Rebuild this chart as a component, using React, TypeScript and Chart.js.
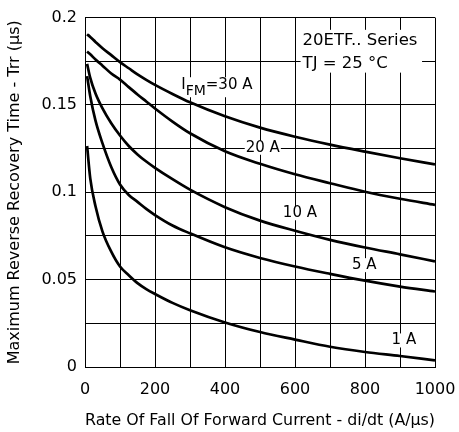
import React, { useEffect, useRef } from 'react';
import { Chart, registerables } from 'chart.js';

Chart.register(...registerables);

// di/dt (A/µs)
const rateValues = [6, 15, 30, 50, 75, 100, 125, 150, 175, 200, 250, 300, 400, 500, 600, 700, 800, 900, 1000];
// Trr (µs) per forward current
const trr30A = [0.1905, 0.1889, 0.1861, 0.1825, 0.1785, 0.1745, 0.171, 0.1675, 0.1644, 0.1615, 0.1563, 0.1515, 0.1435, 0.137, 0.1318, 0.1273, 0.1233, 0.1195, 0.116];
const trr20A = [0.1806, 0.179, 0.176, 0.1725, 0.168, 0.1645, 0.1602, 0.156, 0.152, 0.148, 0.1405, 0.1338, 0.1235, 0.1163, 0.1103, 0.1052, 0.1003, 0.0963, 0.0928];
const trr10A = [0.1735, 0.1655, 0.1565, 0.148, 0.1395, 0.1325, 0.1265, 0.1217, 0.1176, 0.114, 0.1075, 0.1015, 0.0915, 0.0838, 0.078, 0.0728, 0.0684, 0.0645, 0.0605];
const trr5A = [0.1665, 0.155, 0.141, 0.128, 0.1145, 0.1045, 0.0985, 0.0945, 0.0905, 0.087, 0.081, 0.0765, 0.0685, 0.0624, 0.0575, 0.0533, 0.0494, 0.046, 0.0432];
const trr1A = [0.1265, 0.108, 0.092, 0.0775, 0.066, 0.0575, 0.0525, 0.048, 0.0446, 0.0418, 0.0367, 0.0325, 0.0255, 0.02, 0.0157, 0.0116, 0.0086, 0.0063, 0.0038];

const seriesNames = ['30 A', '20 A', '10 A', '5 A', '1 A'];
const seriesValues = [trr30A, trr20A, trr10A, trr5A, trr1A];

const xTickLabels = ['0', '200', '400', '600', '800', '1000'];
const yTickLabels = ['0', '0.05', '0.1', '0.15', '0.2'];

const xTitle = 'Rate Of Fall Of Forward Current - di/dt (A/µs)';
const yTitle = 'Maximum Reverse Recovery Time - Trr (µs)';

// curve labels (data coordinates)
const curveLabels = ['20 A', '10 A', '5 A', '1 A'];
const curveLabelX = [508, 614, 798, 911];
const curveLabelY = [0.1255, 0.088, 0.0583, 0.0152];

const ifmMain = 'I';
const ifmSub = 'FM';
const ifmRest = '=30 A';
const ifmX = 275;
const ifmY = 0.159;

const boxLines = ['20ETF.. Series', 'TJ = 25 °C'];
const boxLineY = [0.1869, 0.1735];
const boxX = [616, 963];
const boxY = [0.193, 0.1685];

const FONT = '"DejaVu Sans", sans-serif';

const annotationPlugin = {
  id: 'annotations',
  beforeDatasetsDraw(chart: any) {
    const { ctx, scales } = chart;
    const xs = scales.x;
    const ys = scales.y;
    ctx.save();

    // info box
    const bx0 = xs.getPixelForValue(boxX[0]);
    const bx1 = xs.getPixelForValue(boxX[1]);
    const by0 = ys.getPixelForValue(boxY[0]);
    const by1 = ys.getPixelForValue(boxY[1]);
    ctx.fillStyle = '#fff';
    ctx.fillRect(bx0, by0, bx1 - bx0, by1 - by0);
    ctx.fillStyle = '#000';
    ctx.font = `16.5px ${FONT}`;
    ctx.textAlign = 'left';
    ctx.textBaseline = 'middle';
    boxLines.forEach((t, i) => {
      ctx.fillText(t, bx0 + 2, ys.getPixelForValue(boxLineY[i]));
    });

    // curve labels
    ctx.font = `15px ${FONT}`;
    ctx.textAlign = 'center';
    ctx.textBaseline = 'middle';
    curveLabels.forEach((t, i) => {
      const px = xs.getPixelForValue(curveLabelX[i]);
      const py = ys.getPixelForValue(curveLabelY[i]);
      const w = ctx.measureText(t).width;
      ctx.fillStyle = '#fff';
      ctx.fillRect(px - w / 2 - 1, py - 7, w + 2, 14);
      ctx.fillStyle = '#000';
      ctx.fillText(t, px, py);
    });

    // I_FM = 30 A
    const lx = xs.getPixelForValue(ifmX);
    const ly = ys.getPixelForValue(ifmY);
    ctx.textAlign = 'left';
    ctx.textBaseline = 'alphabetic';
    ctx.font = `15px ${FONT}`;
    const wI = ctx.measureText(ifmMain).width;
    const wRest = ctx.measureText(ifmRest).width;
    ctx.font = `14px ${FONT}`;
    const wSub = ctx.measureText(ifmSub).width;
    ctx.fillStyle = '#fff';
    ctx.fillRect(lx - 1, ly - 12, wI + wSub + wRest + 2, 20);
    ctx.fillStyle = '#000';
    ctx.font = `15px ${FONT}`;
    ctx.fillText(ifmMain, lx, ly);
    ctx.font = `14px ${FONT}`;
    ctx.fillText(ifmSub, lx + wI, ly + 6);
    ctx.font = `15px ${FONT}`;
    ctx.fillText(ifmRest, lx + wI + wSub, ly);

    ctx.restore();
  },
};

export default function App() {
  const canvasRef = useRef<HTMLCanvasElement | null>(null);

  useEffect(() => {
    if (!canvasRef.current) return;
    const datasets = seriesNames.map((name, si) => ({
      label: name,
      data: rateValues.map((x, i) => ({ x, y: seriesValues[si][i] })),
      borderColor: '#000',
      borderWidth: 2.7,
      pointRadius: 0,
      fill: false,
      cubicInterpolationMode: 'monotone' as const,
    }));
    const tickFont = { family: FONT, size: 16 };
    const titleFont = { family: FONT, size: 16 };
    const chart = new Chart(canvasRef.current, {
      type: 'line',
      data: { datasets },
      options: {
        animation: false,
        responsive: true,
        maintainAspectRatio: false,
        layout: { padding: { top: 16, right: 24, left: 0, bottom: 0 } },
        plugins: { legend: { display: false }, tooltip: { enabled: false } },
        scales: {
          x: {
            type: 'linear',
            min: 0,
            max: 1000,
            ticks: {
              stepSize: 100,
              autoSkip: false,
              maxRotation: 0,
              color: '#000',
              font: tickFont,
              padding: 0,
              callback: (_v: any, i: number) => (i % 2 === 0 ? xTickLabels[i / 2] : ''),
            },
            grid: { color: '#000', lineWidth: 1, drawTicks: true, tickLength: 13, tickColor: 'rgba(0,0,0,0)' },
            border: { color: '#000', width: 1 },
            title: { display: true, text: xTitle, color: '#000', font: titleFont, padding: { top: 0, bottom: 2 } },
            afterFit: (s: any) => {
              s.height = 65;
            },
          },
          y: {
            type: 'linear',
            min: 0,
            max: 0.2,
            ticks: {
              stepSize: 0.025,
              autoSkip: false,
              color: '#000',
              font: tickFont,
              padding: 8,
              callback: (_v: any, i: number) => (i % 2 === 0 ? yTickLabels[i / 2] : ''),
            },
            grid: { color: '#000', lineWidth: 1, drawTicks: false },
            border: { color: '#000', width: 1 },
            title: { display: true, text: yTitle, color: '#000', font: titleFont, padding: { top: 5, bottom: 0 } },
            afterFit: (s: any) => {
              s.width = 85;
            },
          },
        },
      },
      plugins: [annotationPlugin],
    });
    return () => chart.destroy();
  }, []);

  return (
    <div style={{ position: 'absolute', left: 0, top: 0, width: 459, height: 432, background: '#fff' }}>
      <canvas ref={canvasRef} />
    </div>
  );
}
